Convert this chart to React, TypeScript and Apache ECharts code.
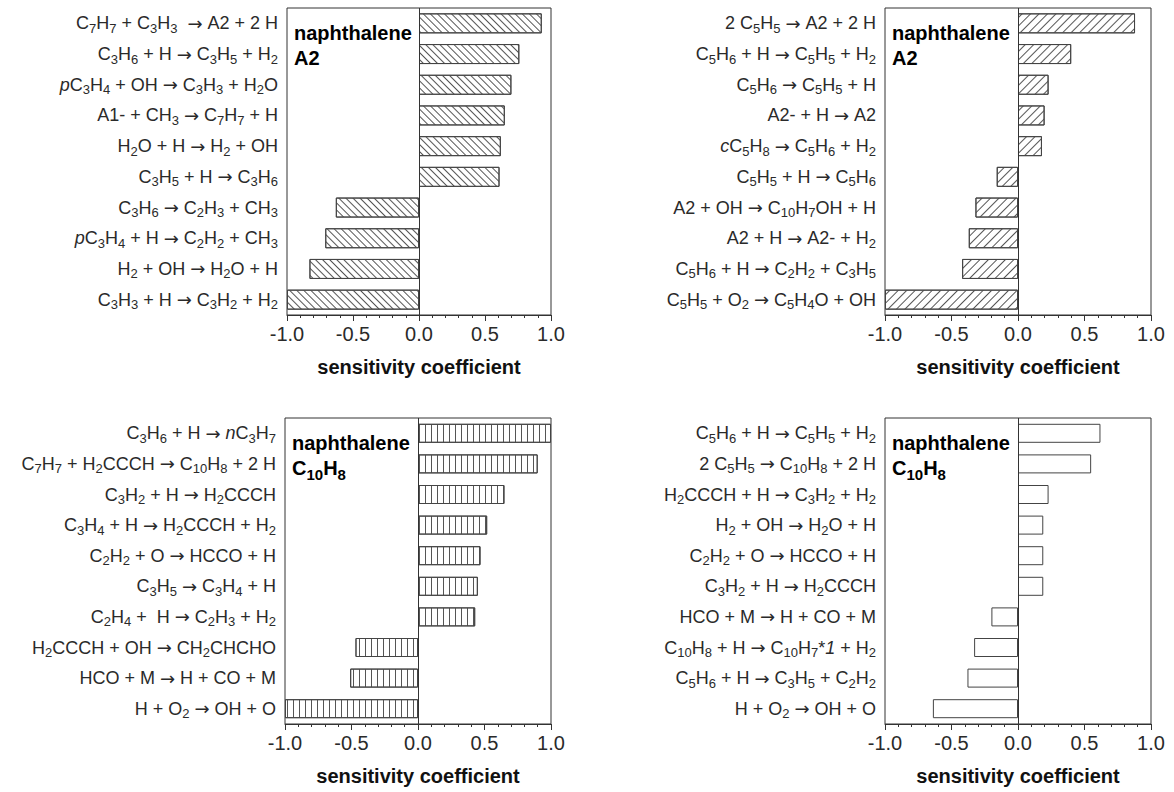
import React, { useEffect, useRef } from "react";
import * as echarts from "echarts";

// ---- data ----
const labelsTL = [
  "C_7H_7 + C_3H_3  → A2 + 2 H",
  "C_3H_6 + H → C_3H_5 + H_2",
  "~p~C_3H_4 + OH → C_3H_3 + H_2O",
  "A1- + CH_3 → C_7H_7 + H",
  "H_2O + H → H_2 + OH",
  "C_3H_5 + H → C_3H_6",
  "C_3H_6 → C_2H_3 + CH_3",
  "~p~C_3H_4 + H → C_2H_2 + CH_3",
  "H_2 + OH → H_2O + H",
  "C_3H_3 + H → C_3H_2 + H_2",
];
const valuesTL = [0.93, 0.76, 0.7, 0.65, 0.62, 0.61, -0.63, -0.71, -0.83, -1.0];

const labelsTR = [
  "2 C_5H_5 → A2 + 2 H",
  "C_5H_6 + H → C_5H_5 + H_2",
  "C_5H_6 → C_5H_5 + H",
  "A2- + H → A2",
  "~c~C_5H_8 → C_5H_6 + H_2",
  "C_5H_5 + H → C_5H_6",
  "A2 + OH → C_10H_7OH + H",
  "A2 + H → A2- + H_2",
  "C_5H_6 + H → C_2H_2 + C_3H_5",
  "C_5H_5 + O_2 → C_5H_4O + OH",
];
const valuesTR = [0.88, 0.4, 0.23, 0.2, 0.18, -0.16, -0.32, -0.37, -0.42, -1.0];

const labelsBL = [
  "C_3H_6 + H → ~n~C_3H_7",
  "C_7H_7 + H_2CCCH → C_10H_8 + 2 H",
  "C_3H_2 + H → H_2CCCH",
  "C_3H_4 + H → H_2CCCH + H_2",
  "C_2H_2 + O → HCCO + H",
  "C_3H_5 → C_3H_4 + H",
  "C_2H_4 +  H → C_2H_3 + H_2",
  "H_2CCCH + OH → CH_2CHCHO",
  "HCO + M → H + CO + M",
  "H + O_2 → OH + O",
];
const valuesBL = [1.0, 0.9, 0.65, 0.52, 0.47, 0.45, 0.43, -0.47, -0.51, -1.0];

const labelsBR = [
  "C_5H_6 + H → C_5H_5 + H_2",
  "2 C_5H_5 → C_10H_8 + 2 H",
  "H_2CCCH + H → C_3H_2 + H_2",
  "H_2 + OH → H_2O + H",
  "C_2H_2 + O → HCCO + H",
  "C_3H_2 + H → H_2CCCH",
  "HCO + M → H + CO + M",
  "C_10H_8 + H → C_10H_7*~1~ + H_2",
  "C_5H_6 + H → C_3H_5 + C_2H_2",
  "H + O_2 → OH + O",
];
const valuesBR = [0.62, 0.55, 0.23, 0.19, 0.19, 0.19, -0.2, -0.33, -0.38, -0.64];

const speciesTitles = ["A2", "A2", "C_10H_8", "C_10H_8"];
const panelName = "naphthalene";
const axisName = "sensitivity coefficient";
const xMin = -1;
const xMax = 1;
const xInterval = 0.5;

// ---- helpers ----
function toRich(s: string, n = "n", sub = "s", it = "i", arrow = "a"): string {
  let out = "";
  let buf = "";
  const flush = () => {
    if (buf) {
      out += `{${n}|${buf}}`;
      buf = "";
    }
  };
  let i = 0;
  while (i < s.length) {
    const c = s[i];
    if (c === "_") {
      flush();
      let j = i + 1;
      let d = "";
      while (j < s.length && /[0-9]/.test(s[j])) {
        d += s[j];
        j++;
      }
      out += `{${sub}|${d}}`;
      i = j;
      continue;
    }
    if (c === "~") {
      flush();
      const j = s.indexOf("~", i + 1);
      out += `{${it}|${s.slice(i + 1, j)}}`;
      i = j + 1;
      continue;
    }
    if (c === "→") {
      flush();
      out += `{${arrow}|→}`;
      i++;
      continue;
    }
    buf += c;
    i++;
  }
  flush();
  return out;
}

const FONT = "'Liberation Sans', Arial, Helvetica, sans-serif";
const TXT = "#2a2a2a";

const labelRich = {
  n: { fontSize: 18, fontFamily: FONT, color: TXT, lineHeight: 22, verticalAlign: "middle" },
  i: { fontSize: 18, fontFamily: FONT, color: TXT, lineHeight: 22, fontStyle: "italic", verticalAlign: "middle" },
  a: { fontSize: 18, fontFamily: "'DejaVu Sans', sans-serif", color: TXT, lineHeight: 22, verticalAlign: "middle" },
  s: { fontSize: 13, fontFamily: FONT, color: TXT, lineHeight: 13, padding: [10, 0, 0, 0], verticalAlign: "middle" },
};

const titleRich = {
  b: { fontSize: 20, fontFamily: FONT, fontWeight: "bold", color: "#111", lineHeight: 26, verticalAlign: "middle" },
  bi: { fontSize: 20, fontFamily: FONT, fontWeight: "bold", color: "#111", lineHeight: 26, verticalAlign: "middle" },
  a: { fontSize: 20, fontFamily: FONT, fontWeight: "bold", color: "#111", lineHeight: 26, verticalAlign: "middle" },
  bs: { fontSize: 15, fontFamily: FONT, fontWeight: "bold", color: "#111", lineHeight: 14, padding: [12, 0, 0, 0], verticalAlign: "middle" },
};

const grids = [
  { left: 287, top: 8, width: 264, height: 307 },
  { left: 885, top: 8, width: 266, height: 307 },
  { left: 285, top: 418, width: 266, height: 306 },
  { left: 885, top: 418, width: 266, height: 306 },
];

const decals: any[] = [
  { symbol: "rect", symbolSize: 1, dashArrayX: [1, 0], dashArrayY: [1, 4], rotation: Math.PI / 4, color: "#555", backgroundColor: "#fff" },
  { symbol: "rect", symbolSize: 1, dashArrayX: [1, 0], dashArrayY: [1, 5], rotation: -Math.PI / 4, color: "#555", backgroundColor: "#fff" },
  { symbol: "rect", symbolSize: 1, dashArrayX: [1, 0], dashArrayY: [1, 5], rotation: Math.PI / 2, color: "#555", backgroundColor: "#fff" },
  null,
];

const panels = [
  { labels: labelsTL, values: valuesTL },
  { labels: labelsTR, values: valuesTR },
  { labels: labelsBL, values: valuesBL },
  { labels: labelsBR, values: valuesBR },
];

export default function App() {
  const ref = useRef<HTMLDivElement>(null);
  useEffect(() => {
    if (!ref.current) return;
    const chart = echarts.init(ref.current, undefined, { renderer: "svg" });

    const option: any = {
      animation: false,
      backgroundColor: "#fff",
      textStyle: { fontFamily: FONT },
      grid: grids.map((g) => ({
        ...g,
        show: true,
        borderColor: "#333",
        borderWidth: 1,
        backgroundColor: "transparent",
        containLabel: false,
        outerBoundsMode: "none",
      })),
      xAxis: grids.map((_, k) => ({
        type: "value",
        gridIndex: k,
        min: xMin,
        max: xMax,
        interval: xInterval,
        name: axisName,
        nameLocation: "middle",
        nameGap: 42,
        nameTextStyle: { fontSize: 20, fontWeight: "bold", color: "#111", fontFamily: FONT },
        axisLine: { show: true, onZero: false, lineStyle: { color: "#333", width: 1 } },
        axisTick: { show: true, inside: false, length: 6, lineStyle: { color: "#333" } },
        minorTick: { show: true, splitNumber: 5, length: 3, lineStyle: { color: "#333" } },
        splitLine: { show: false },
        axisLabel: {
          fontSize: 20,
          color: TXT,
          margin: 9,
          fontFamily: FONT,
          formatter: (v: number) => v.toFixed(1),
        },
      })),
      yAxis: panels.map((p, k) => ({
        type: "category",
        gridIndex: k,
        inverse: true,
        data: p.labels,
        axisLine: { show: false, onZero: false },
        axisTick: { show: false },
        splitLine: { show: false },
        axisLabel: {
          interval: 0,
          margin: 9,
          formatter: (v: string) => toRich(v),
          rich: labelRich,
        },
      })),
      series: panels.map((p, k) => ({
        type: "bar",
        xAxisIndex: k,
        yAxisIndex: k,
        data: p.values,
        barWidth: k < 2 ? 20 : 19,
        itemStyle: {
          color: "#fff",
          borderColor: "#444",
          borderWidth: 1,
          ...(decals[k] ? { decal: decals[k] } : {}),
        },
        markLine: {
          silent: true,
          symbol: ["none", "none"],
          label: { show: false },
          lineStyle: { color: "#333", type: "solid", width: 1 },
          data: [{ xAxis: 0 }],
        },
      })),
      graphic: grids.flatMap((g, k) => [
        {
          type: "text",
          x: g.left + 7,
          y: g.top + 25,
          style: {
            text: `{b|${panelName}}`,
            rich: titleRich,
            verticalAlign: "middle",
            align: "left",
          },
        },
        {
          type: "text",
          x: g.left + 7,
          y: g.top + 50,
          style: {
            text: toRich(speciesTitles[k], "b", "bs", "bi"),
            rich: titleRich,
            verticalAlign: "middle",
            align: "left",
          },
        },
      ]),
    };
    chart.setOption(option);
    return () => chart.dispose();
  }, []);
  return (
    <div
      ref={ref}
      style={{ position: "absolute", left: 0, top: 0, width: 1174, height: 792, background: "#fff" }}
    />
  );
}
